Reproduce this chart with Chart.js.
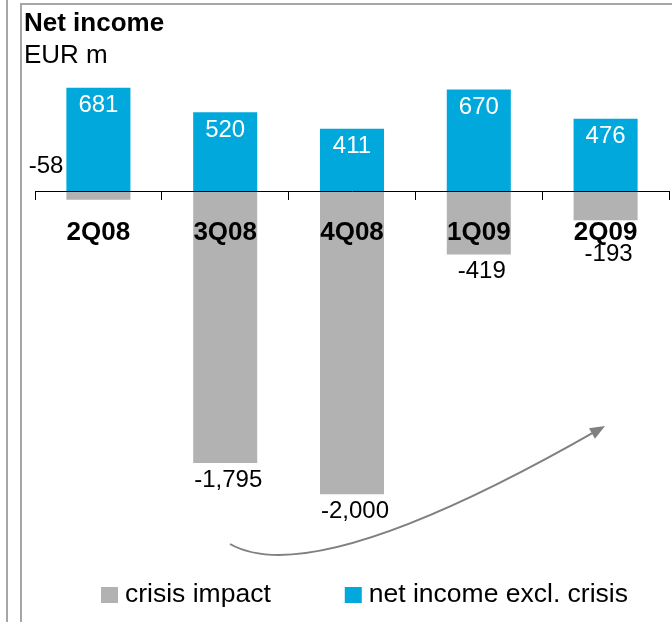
<!DOCTYPE html>
<html>
<head>
<meta charset="utf-8">
<script src="https://cdn.jsdelivr.net/npm/chart.js@4.4.0/dist/chart.umd.min.js"></script>
<style>
  html, body { margin: 0; padding: 0; background: #fff; }
  #wrap { position: relative; width: 672px; height: 622px; overflow: hidden; }
  .frame { position: absolute; background: #a6a6a6; }
  canvas { position: absolute; left: 0; top: 0; }
</style>
</head>
<body>
<div id="wrap">
  <div class="frame" style="left:6px;top:0;width:2px;height:622px"></div>
  <div class="frame" style="left:20px;top:3px;width:2px;height:619px"></div>
  <div class="frame" style="left:20px;top:3px;width:652px;height:2px"></div>
  <canvas id="chart" width="672" height="622"></canvas>
</div>
<script>
// data
const quarters = ['2Q08', '3Q08', '4Q08', '1Q09', '2Q09'];
const crisisImpact = [-58, -1795, -2000, -419, -193];
const netIncomeExclCrisis = [681, 520, 411, 670, 476];

const FONT = '"Liberation Sans", Arial, sans-serif';
const GRAY = '#b2b2b2';
const BLUE = '#00a8dc';

// value labels: white inside the top of blue bars, black under gray bars
const valueLabels = {
  id: 'valueLabels',
  afterDatasetsDraw(chart) {
    const ctx = chart.ctx;
    const zeroY = chart.scales.y.getPixelForValue(0);
    ctx.save();
    ctx.font = '24px ' + FONT;
    ctx.textBaseline = 'middle';
    chart.data.datasets.forEach((ds, di) => {
      chart.getDatasetMeta(di).data.forEach((bar, i) => {
        const v = ds.data[i];
        const txt = v.toLocaleString('en-US');
        if (v > 0) {
          ctx.fillStyle = '#fff';
          ctx.textAlign = 'center';
          ctx.fillText(txt, bar.x, bar.y + 18);
        } else if (Math.abs(v) < 100) {
          // too small to sit under the bar, goes to its left
          ctx.fillStyle = '#000';
          ctx.textAlign = 'right';
          ctx.fillText(txt, bar.x - bar.width / 2 - 3, zeroY - 25);
        } else {
          ctx.fillStyle = '#000';
          ctx.textAlign = 'center';
          ctx.fillText(txt, bar.x + 3, Math.max(bar.y + 17, zeroY + 63));
        }
      });
    });
    ctx.restore();
  }
};

// curved recovery arrow
const trendArrow = {
  id: 'trendArrow',
  afterDatasetsDraw(chart) {
    const ctx = chart.ctx;
    const p0 = { x: 230, y: 544 };
    const c = { x: 315, y: 592 };
    const p1 = { x: 605, y: 426 };
    const ang = Math.atan2(p1.y - c.y, p1.x - c.x);
    ctx.save();
    ctx.strokeStyle = '#808080';
    ctx.fillStyle = '#808080';
    ctx.lineWidth = 2;
    ctx.beginPath();
    ctx.moveTo(p0.x, p0.y);
    ctx.quadraticCurveTo(c.x, c.y, p1.x - 8 * Math.cos(ang), p1.y - 8 * Math.sin(ang));
    ctx.stroke();
    ctx.beginPath();
    ctx.moveTo(p1.x, p1.y);
    ctx.lineTo(p1.x - 15 * Math.cos(ang) + 6 * Math.sin(ang), p1.y - 15 * Math.sin(ang) - 6 * Math.cos(ang));
    ctx.lineTo(p1.x - 15 * Math.cos(ang) - 6 * Math.sin(ang), p1.y - 15 * Math.sin(ang) + 6 * Math.cos(ang));
    ctx.closePath();
    ctx.fill();
    ctx.restore();
  }
};

// legend row at the bottom
const legendRow = {
  id: 'legendRow',
  afterDraw(chart) {
    const ctx = chart.ctx;
    ctx.save();
    ctx.font = '26.5px ' + FONT;
    ctx.textBaseline = 'middle';
    ctx.textAlign = 'left';
    let x = 101;
    const y = 595;
    chart.data.datasets.forEach(ds => {
      ctx.fillStyle = ds.backgroundColor;
      ctx.fillRect(x, y - 8, 17, 16);
      ctx.fillStyle = '#000';
      ctx.fillText(ds.label, x + 24, y);
      x += 24 + ctx.measureText(ds.label).width + 74;
    });
    ctx.restore();
  }
};

new Chart(document.getElementById('chart'), {
  type: 'bar',
  data: {
    labels: quarters,
    datasets: [
      { label: 'crisis impact', data: crisisImpact, backgroundColor: GRAY },
      { label: 'net income excl. crisis', data: netIncomeExclCrisis, backgroundColor: BLUE }
    ]
  },
  options: {
    responsive: false,
    animation: false,
    layout: { padding: { left: 24, right: 3, top: 0, bottom: 52 } },
    datasets: { bar: { categoryPercentage: 1, barPercentage: 0.505 } },
    scales: {
      x: {
        stacked: true,
        position: { y: 0 },
        grid: { display: true, drawOnChartArea: false, drawTicks: true, tickLength: 8, color: '#000', offset: true, z: 1 },
        border: { display: true, color: '#000', width: 1, z: 1 },
        ticks: { color: '#000', font: { family: FONT, size: 26, weight: 'bold' }, padding: 18, maxRotation: 0, autoSkip: false, z: 1 },
        afterFit(scale) { scale.height = 0; }
      },
      y: {
        stacked: true,
        min: -2500,
        max: 789,
        grid: { display: false },
        border: { display: false },
        ticks: { display: false },
        afterFit(scale) { scale.width = 11; }
      }
    },
    plugins: {
      legend: { display: false },
      tooltip: { enabled: false },
      title: {
        display: true, text: 'Net income', align: 'start', color: '#000',
        font: { family: FONT, size: 26, weight: 'bold' }, padding: { top: 8, bottom: 0 }
      },
      subtitle: {
        display: true, text: 'EUR m', align: 'start', color: '#000',
        font: { family: FONT, size: 26, weight: 'normal' }, padding: { top: 1, bottom: 0 }
      }
    }
  },
  plugins: [valueLabels, trendArrow, legendRow]
});
</script>
</body>
</html>
